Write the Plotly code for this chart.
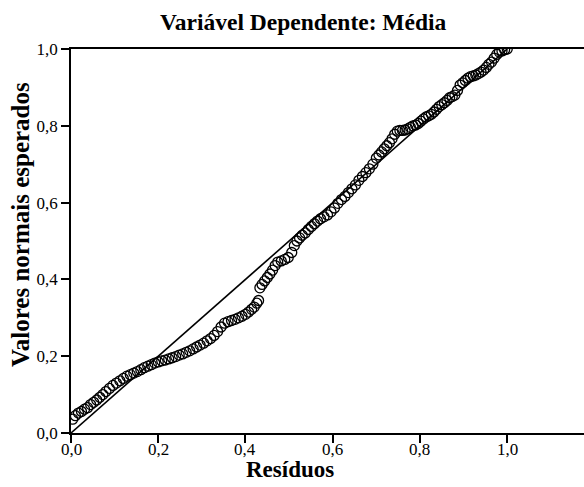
import plotly.graph_objects as go

# Observed cumulative probability (x) and expected cumulative probability (y)
obs_prob = [
    0.004, 0.010, 0.017, 0.024, 0.031, 0.038, 0.045, 0.052, 0.059, 0.066,
    0.073, 0.080, 0.088, 0.096, 0.104, 0.112, 0.120, 0.128, 0.136, 0.144,
    0.152, 0.160, 0.168, 0.176, 0.184, 0.192, 0.200,
    0.208, 0.216, 0.224, 0.232, 0.240, 0.248, 0.256, 0.264, 0.272, 0.280,
    0.288, 0.296, 0.304, 0.312, 0.320, 0.328, 0.336, 0.344, 0.352, 0.360,
    0.368, 0.376, 0.384, 0.392, 0.400, 0.407, 0.414, 0.420, 0.426, 0.430,
    0.433, 0.438, 0.444, 0.450, 0.456, 0.462, 0.468, 0.474, 0.482, 0.490,
    0.498, 0.506, 0.512, 0.518, 0.524, 0.530, 0.537, 0.544, 0.551,
    0.558, 0.565, 0.572, 0.580, 0.588, 0.596, 0.604, 0.612, 0.620, 0.628,
    0.636, 0.644, 0.652, 0.660, 0.668, 0.676, 0.684, 0.692, 0.700, 0.706,
    0.712, 0.718, 0.724, 0.730, 0.736, 0.742, 0.748,
    0.754, 0.760, 0.766, 0.772, 0.778, 0.784, 0.790, 0.796, 0.802, 0.808,
    0.814, 0.820, 0.826, 0.832, 0.838, 0.844, 0.850, 0.856, 0.862, 0.868,
    0.874, 0.880, 0.886, 0.892, 0.898, 0.904, 0.910, 0.916, 0.922, 0.928,
    0.934, 0.940, 0.946, 0.952, 0.958, 0.964, 0.970, 0.976, 0.982, 0.988,
    0.994, 1.000,
]
exp_prob = [
    0.036, 0.045, 0.052, 0.056, 0.062, 0.066, 0.074, 0.080, 0.086, 0.093,
    0.100, 0.108, 0.116, 0.124, 0.130, 0.136, 0.142, 0.148, 0.152, 0.156,
    0.160, 0.165, 0.170, 0.174, 0.178, 0.182, 0.185,
    0.188, 0.190, 0.193, 0.196, 0.199, 0.203, 0.206, 0.210, 0.214, 0.219,
    0.224, 0.229, 0.234, 0.240, 0.246, 0.254, 0.264, 0.276, 0.286, 0.290,
    0.293, 0.296, 0.300, 0.304, 0.309, 0.315, 0.322, 0.328, 0.338, 0.345,
    0.378, 0.387, 0.396, 0.405, 0.414, 0.424, 0.436, 0.445, 0.448, 0.452,
    0.457, 0.470, 0.488, 0.500, 0.508, 0.515, 0.521, 0.530, 0.538,
    0.545, 0.552, 0.558, 0.563, 0.568, 0.576, 0.586, 0.598, 0.608, 0.616,
    0.626, 0.636, 0.646, 0.658, 0.668, 0.678, 0.688, 0.700, 0.716, 0.724,
    0.732, 0.740, 0.748, 0.756, 0.766, 0.778, 0.786,
    0.788, 0.788, 0.789, 0.792, 0.796, 0.800, 0.802, 0.806, 0.812, 0.818,
    0.823, 0.826, 0.830, 0.836, 0.843, 0.850, 0.855, 0.860, 0.866, 0.873,
    0.876, 0.880, 0.892, 0.906, 0.912, 0.918, 0.924, 0.928, 0.930, 0.932,
    0.936, 0.940, 0.945, 0.952, 0.960, 0.966, 0.976, 0.986, 0.992, 0.995,
    0.998, 1.000,
]
ref_line = [0.0, 1.0]
tick_vals = [0.0, 0.2, 0.4, 0.6, 0.8, 1.0]
tick_text = ["0,0", "0,2", "0,4", "0,6", "0,8", "1,0"]

title_text = "Variável Dependente: Média"
x_title = "Resíduos"
y_title = "Valores normais esperados"

SERIF = "Liberation Serif"

fig = go.Figure()
fig.add_trace(go.Scatter(
    x=ref_line, y=ref_line, mode="lines",
    line=dict(color="black", width=1.6), hoverinfo="skip", showlegend=False,
))
fig.add_trace(go.Scatter(
    x=obs_prob, y=exp_prob, mode="markers",
    marker=dict(symbol="circle-open", size=10, color="black",
                line=dict(color="black", width=1.3)),
    showlegend=False,
))

W, H = 584, 487
L, T, B = 71, 49, 54
PH = H - T - B

tick_annots = [
    dict(text=t, x=v, xref="x", y=0, yref="paper", yanchor="top",
         xanchor="center", yshift=-6, showarrow=False, borderpad=0,
         font=dict(family=SERIF, size=17, color="black"))
    for v, t in zip(tick_vals, tick_text)
]

fig.update_layout(
    width=W, height=H,
    margin=dict(l=L, r=0, t=T, b=B, pad=0),
    paper_bgcolor="white", plot_bgcolor="white",
    font=dict(family=SERIF, color="black"),
    xaxis=dict(
        range=[0, 1.176], tickvals=tick_vals, showticklabels=False,
        ticks="outside", ticklen=8, tickwidth=1.5, tickcolor="black",
        showline=True, linecolor="black", linewidth=1.5, mirror=True,
        showgrid=False, zeroline=False,
    ),
    yaxis=dict(
        range=[0, 1.0], tickvals=tick_vals, ticktext=tick_text,
        ticks="outside", ticklen=8, tickwidth=1.5, tickcolor="black",
        showline=True, linecolor="black", linewidth=1.5,
        showgrid=False, zeroline=False,
        tickfont=dict(family=SERIF, size=17, color="black"),
    ),
    annotations=tick_annots + [
        dict(text="<b>%s</b>" % title_text, xref="paper", yref="paper",
             x=(303 - L) / (W - L), y=1 + (T - 22) / PH,
             xanchor="center", yanchor="middle", showarrow=False,
             font=dict(family=SERIF, size=23.5, color="black")),
        dict(text="<b>%s</b>" % x_title, xref="paper", yref="paper",
             x=(290 - L) / (W - L), y=-(469 - (H - B)) / PH,
             xanchor="center", yanchor="middle", showarrow=False, borderpad=0,
             font=dict(family=SERIF, size=23, color="black")),
        dict(text="<b>%s</b>" % y_title, xref="paper", yref="paper",
             x=-(L - 20) / (W - L), y=(H - B - 225) / PH,
             xanchor="center", yanchor="middle", showarrow=False, textangle=-90,
             font=dict(family=SERIF, size=25, color="black")),
    ],
)

fig.write_html("out.html")
